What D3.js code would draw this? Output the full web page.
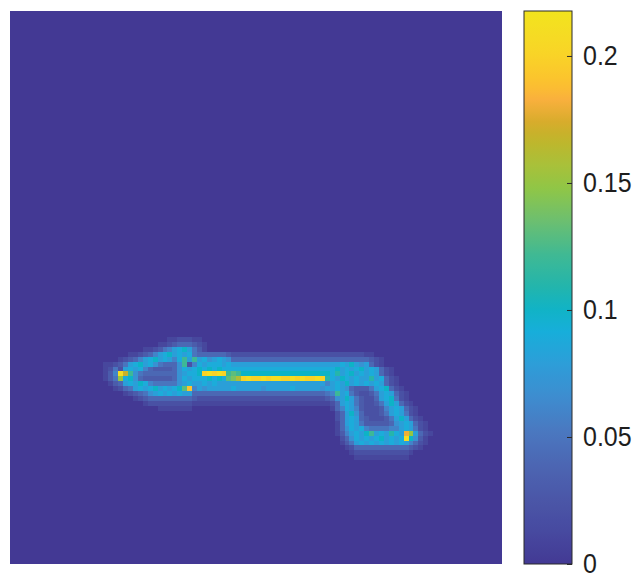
<!DOCTYPE html>
<html>
<head>
<meta charset="utf-8">
<script src="https://cdn.jsdelivr.net/npm/d3@7"></script>
<style>
  body { margin: 0; background: #fff; }
  svg { display: block; }
</style>
</head>
<body>
<div id="chart"></div>
<script>
// matrix size (columns x rows)
let nCols = 100, nRows = 112;

// non-zero rows of the matrix: row index, first column, one char per cell
// '.' = 0, '1'..'9' = 0.01..0.09, 'a'..'l' = 0.10..0.21
let rowIds = [66, 67, 68, 69, 70, 71, 72, 73, 74, 75, 76, 77, 78, 79, 80, 81, 82, 83, 84, 85, 86, 87, 88, 89, 90];
let rowStarts = [32, 30, 27, 24, 22, 19, 19, 19, 19, 20, 21, 23, 25, 27, 30, 66, 66, 66, 66, 66, 67, 67, 68, 69, 70];
let rowCells = [
  "1122211",
  "1123444321",
  "11235689a8531",
  "11234689a89895" + "4444443" + "222222222222222222222" + "22222211",
  "1234689a89869c8c" + "8978987" + "4444444444444444444444" + "444444321",
  "1123589a89754447c26" + "9899989" + "88888888888888888888" + "8898a878421",
  "1252898964333347989" + "a9a9a99" + "99999999999999999999" + "9a8989a898421",
  "136lhc75" + "4444444" + "7899" + "a" + "klklk" + "cdc" + "aaaaaaaaaaaaaaaaa" + "a" + "9b89a89898421",
  "135f9a74" + "3333334" + "7989" + "9" + "9a9a9" + "deg" + "klkklkllkklklkklk" + "b" + "98a98988b89421",
  "134898a96" + "55555" + "7898" + "89898888888888888888888888" + "6" + "898a8989898421",
  "12458989a8989adj6" + "878888898888878888898888878" + "89874333589a421",
  "123457898989884" + "44444444444444444444444444" + "5" + "6c89532235898421",
  "1234444444443" + "22222222222222222222222222" + "3" + "478a85322489a521",
  "12222222221" + "11111111111111111111111111" + "1" + "248985322358a8421",
  "1111111" + "............................" + "146986322236898421",
  "248a7422235898521",
  "2489843222358a8421",
  "1489853333347898421",
  "1479896555566898521",
  "136898ac898b98if8421",
  "24798989a8989la731",
  "135898989898986421",
  "1244444444444321",
  "1222222222221",
  "11111111111"
];
let levelChars = ".123456789abcdefghijklm";
let levelStep = 0.01;

// colorbar
let colorbarMax = 0.2177;
let colorbarTicks = [0, 0.05, 0.1, 0.15, 0.2];
let colorbarTickLabels = ["0", "0.05", "0.1", "0.15", "0.2"];

// colormap as it looks in the picture (parula-like)
let cmapPos = [0, 0.06, 0.12, 0.18, 0.24, 0.30, 0.36, 0.42, 0.46, 0.50, 0.56, 0.62, 0.68, 0.72, 0.77, 0.80, 0.84, 0.87, 0.93, 1];
let cmapCol = ["#433994", "#474aa0", "#4b57a8", "#4c66b3", "#4a78c0", "#3e8ccf", "#2e9dd8", "#17aeda", "#11b3c6", "#22b5ad",
               "#40b993", "#6cbf70", "#90c646", "#a8c13a", "#c2b42a", "#d8ac2c", "#f9b03d", "#fcc22e", "#f8d626", "#f2e41e"];

let width = 637, height = 574;
let plot = {left: 10, top: 11, right: 502, bottom: 564};
let cbar = {left: 524, right: 572};

let svg = d3.select("#chart").append("svg")
  .attr("width", width)
  .attr("height", height);

let color = d3.scaleLinear()
  .domain(cmapPos.map(p => p * colorbarMax))
  .range(cmapCol)
  .interpolate(d3.interpolateRgb)
  .clamp(true);

let x = d3.scaleLinear().domain([0, nCols]).range([plot.left, plot.right]);
let y = d3.scaleLinear().domain([0, nRows]).range([plot.top, plot.bottom]);

// unpack the rows into cells
let cells = [];
rowIds.forEach((r, i) => {
  let s = rowCells[i];
  for (let k = 0; k < s.length; k++) {
    let v = levelChars.indexOf(s[k]) * levelStep;
    if (v > 0) cells.push({r: r, c: rowStarts[i] + k, v: v});
  }
});

let defs = svg.append("defs");
// slight softening, the picture is a resampled image
defs.append("filter")
  .attr("id", "soft")
  .attr("x", "-5%").attr("y", "-20%").attr("width", "110%").attr("height", "140%")
  .append("feGaussianBlur")
  .attr("stdDeviation", 0.7);

// zero background
svg.append("rect")
  .attr("x", x(0)).attr("y", y(0))
  .attr("width", x(nCols) - x(0)).attr("height", y(nRows) - y(0))
  .attr("fill", color(0));

svg.append("g")
  .attr("filter", "url(#soft)")
  .selectAll("rect")
  .data(cells)
  .enter().append("rect")
  .attr("x", d => Math.round(x(d.c)))
  .attr("y", d => Math.round(y(d.r)))
  .attr("width", d => Math.round(x(d.c + 1)) - Math.round(x(d.c)))
  .attr("height", d => Math.round(y(d.r + 1)) - Math.round(y(d.r)))
  .attr("fill", d => color(d.v))
  .attr("shape-rendering", "crispEdges");

// colorbar
let cy = d3.scaleLinear().domain([0, colorbarMax]).range([plot.bottom, plot.top]);

let grad = defs.append("linearGradient")
  .attr("id", "cbgrad")
  .attr("x1", 0).attr("y1", 1).attr("x2", 0).attr("y2", 0);
grad.selectAll("stop")
  .data(d3.range(0, 1.0001, 0.02))
  .enter().append("stop")
  .attr("offset", d => d)
  .attr("stop-color", d => color(d * colorbarMax));

svg.append("rect")
  .attr("x", cbar.left).attr("y", cy(colorbarMax))
  .attr("width", cbar.right - cbar.left)
  .attr("height", cy(0) - cy(colorbarMax))
  .attr("fill", "url(#cbgrad)")
  .attr("stroke", "#2a2a2a")
  .attr("stroke-width", 1);

let cbAxis = d3.axisRight(cy)
  .tickValues(colorbarTicks)
  .tickFormat((d, i) => colorbarTickLabels[i])
  .tickSizeInner(-5)
  .tickSizeOuter(0)
  .tickPadding(11);

let ax = svg.append("g")
  .attr("transform", "translate(" + cbar.right + ",0)")
  .call(cbAxis);
ax.select(".domain").remove();
ax.selectAll("line").attr("stroke", "#2a2a2a");
ax.selectAll("text")
  .attr("font-family", "'Liberation Sans', Arial, sans-serif")
  .attr("font-size", 25)
  .attr("fill", "#1e1e1e")
  .attr("transform", "scale(1,1.12)");
</script>
</body>
</html>
